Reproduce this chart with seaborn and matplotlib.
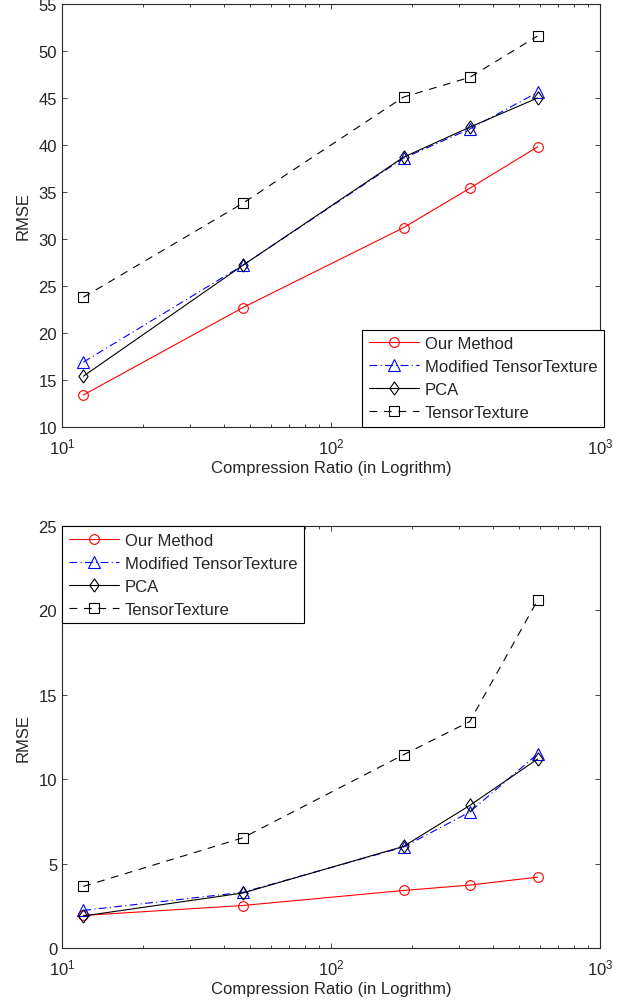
import numpy as np
import pandas as pd
import seaborn as sns
import matplotlib
matplotlib.use('Agg')
import matplotlib.pyplot as plt

# compression ratios (log x axis)
ratio = [12, 47, 186, 328, 586]

# upper panel RMSE
top_ours = [13.4, 22.7, 31.2, 35.4, 39.8]
top_mod = [16.9, 27.2, 38.6, 41.7, 45.6]
top_pca = [15.4, 27.2, 38.7, 41.9, 45.0]
top_tt = [23.8, 33.8, 45.1, 47.2, 51.6]

# lower panel RMSE
bot_ours = [1.93, 2.52, 3.41, 3.73, 4.2]
bot_mod = [2.23, 3.3, 5.98, 8.06, 11.5]
bot_pca = [1.9, 3.26, 6.02, 8.45, 11.2]
bot_tt = [3.65, 6.53, 11.45, 13.42, 20.6]

names = ['Our Method', 'Modified TensorTexture', 'PCA', 'TensorTexture']

# matlab-ish diamond (a bit taller than wide)
diamond = [(0, -1), (0.7, 0), (0, 1), (-0.7, 0), (0, -1)]
styles = [
    dict(color='red', marker='o', linestyle='-', ms=7),
    dict(color='blue', marker='^', linestyle=(0, (7, 3, 1, 3)), ms=8),
    dict(color='black', marker=diamond, linestyle='-', ms=9.5),
    dict(color='black', marker='s', linestyle=(0, (7, 6)), ms=7),
]

sns.set_style('ticks')
plt.rcParams['font.family'] = ['Liberation Sans', 'DejaVu Sans']
plt.rcParams['mathtext.fontset'] = 'custom'
plt.rcParams['mathtext.rm'] = 'Liberation Sans'
plt.rcParams['xtick.direction'] = 'in'
plt.rcParams['ytick.direction'] = 'in'
plt.rcParams['axes.linewidth'] = 0.8


def draw(ax, series, ylim, loc, anchor):
    for name, vals, st in zip(names, series, styles):
        sns.lineplot(x=ratio, y=vals, ax=ax, label=name, color=st['color'],
                     marker=st['marker'], linestyle=st['linestyle'],
                     markersize=st['ms'], markerfacecolor='none',
                     markeredgecolor=st['color'], markeredgewidth=0.8,
                     linewidth=0.8)
    ax.set_xscale('log')
    ax.set_xlim(10, 1000)
    ax.set_ylim(*ylim)
    ax.set_yticks(np.arange(ylim[0], ylim[1] + 0.1, 5))
    ax.tick_params(which='both', top=True, right=True, labelsize=12,
                   width=0.6)
    ax.tick_params(axis='x', pad=6.5)
    ax.tick_params(which='major', length=3.6)
    ax.tick_params(which='minor', length=2.2)
    ax.set_ylabel('RMSE', fontsize=12, labelpad=6)
    ax.set_xlabel('Compression Ratio (in Logrithm)', fontsize=12, labelpad=3)
    leg = ax.legend(loc=loc, bbox_to_anchor=anchor, borderaxespad=0,
                    fontsize=12, fancybox=False, framealpha=1,
                    edgecolor='black', handlelength=3.0, handletextpad=0.36,
                    labelspacing=0.48, borderpad=0.4)
    leg.get_frame().set_linewidth(0.8)


fig = plt.figure(figsize=(6.29, 10.03), dpi=100)
ax1 = fig.add_axes([0.0986, 0.5733, 0.8553, 0.4217])
ax2 = fig.add_axes([0.0986, 0.0538, 0.8553, 0.4207])

draw(ax1, [top_ours, top_mod, top_pca, top_tt], (10, 55), 'lower right',
     (1.0075, 0))
draw(ax2, [bot_ours, bot_mod, bot_pca, bot_tt], (0, 25), 'upper left',
     (0, 1))

fig.savefig('out.png', dpi=100)
